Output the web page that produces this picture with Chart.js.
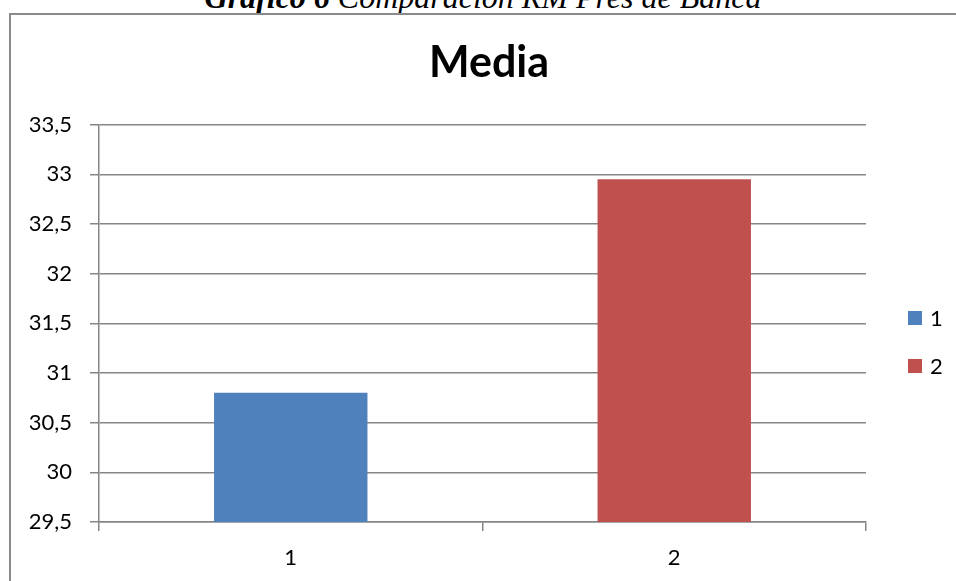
<!DOCTYPE html>
<html>
<head>
<meta charset="utf-8">
<script src="https://cdn.jsdelivr.net/npm/chart.js@4/dist/chart.umd.min.js"></script>
<style>
  html, body { margin: 0; padding: 0; background: #fff; overflow: hidden; width: 956px; height: 581px; }
  #caption {
    position: absolute; left: 0; width: 966px; top: -19px;
    text-align: center; font-family: "Liberation Serif", serif; font-style: italic;
    font-size: 32px; line-height: 32px; color: #000; white-space: nowrap;
  }
  #caption b { font-weight: bold; }
  #frame {
    position: absolute; left: 9px; top: 13px; width: 1000px; height: 700px;
    border: 2px solid #8a8a8a; box-sizing: border-box;
  }
  #chart { position: absolute; left: 10px; top: 14px; }
</style>
</head>
<body>
<div id="caption"><b>Gráfico 6</b> Comparación RM Pres de Banca</div>
<div id="frame"></div>
<canvas id="chart" width="958" height="567"></canvas>
<script>
// Mean of each group
const categories = ['1', '2'];
const meanValues = [30.8, 32.95];
const barColors = ['#4F81BD', '#C0504D'];
const yMin = 29.5;
const yMax = 33.5;
const yStep = 0.5;

const gridGrey = '#868686';
const labelFont = { family: 'Lato, "Open Sans", sans-serif', size: 22 };

// Legend listing one swatch per category, drawn to the right of the plot
const sideLegend = {
  id: 'sideLegend',
  afterDraw(chart) {
    const ctx = chart.ctx;
    const area = chart.chartArea;
    const x = area.right + 42;
    const firstY = 304;
    const gap = 48;
    ctx.save();
    ctx.font = `${labelFont.size}px ${labelFont.family}`;
    ctx.textBaseline = 'middle';
    ctx.textAlign = 'left';
    chart.data.labels.forEach((lbl, i) => {
      const cy = firstY + i * gap;
      ctx.fillStyle = chart.data.datasets[0].backgroundColor[i];
      ctx.fillRect(x, cy - 7, 14, 14);
      ctx.fillStyle = '#000';
      ctx.fillText(lbl, x + 22, cy + 1);
    });
    ctx.restore();
  }
};

new Chart(document.getElementById('chart'), {
  type: 'bar',
  data: {
    labels: categories,
    datasets: [{
      label: 'Media',
      data: meanValues,
      backgroundColor: barColors,
      borderWidth: 0,
      barPercentage: 0.4,
      categoryPercentage: 1.0
    }]
  },
  options: {
    responsive: false,
    animation: false,
    layout: { padding: 0 },
    plugins: {
      legend: { display: false },
      tooltip: { enabled: false },
      title: {
        display: true,
        text: 'Media',
        color: '#000',
        font: { family: 'Lato, "Open Sans", sans-serif', size: 43, weight: 'bold', lineHeight: 1.2 },
        padding: { top: 23, bottom: 36 }
      }
    },
    scales: {
      x: {
        offset: true,
        grid: {
          offset: true,
          drawOnChartArea: false,
          drawTicks: true,
          tickLength: 9,
          color: gridGrey,
          lineWidth: 1.5
        },
        border: { display: true, color: gridGrey, width: 1.5 },
        ticks: { color: '#000', font: labelFont, padding: 14 },
        afterFit(scale) { scale.height = 59; }
      },
      y: {
        min: yMin,
        max: yMax,
        grid: {
          color: gridGrey,
          lineWidth: 1.5,
          drawTicks: true,
          tickLength: 9
        },
        border: { display: true, color: gridGrey, width: 1.5 },
        ticks: {
          stepSize: yStep,
          color: '#000',
          font: labelFont,
          padding: 18,
          callback: (v) => (Number.isInteger(v) ? String(v) : v.toFixed(1).replace('.', ','))
        },
        afterFit(scale) { scale.width = 89; }
      },
      // empty right-hand axis that reserves room for the legend
      legendSpace: {
        position: 'right',
        min: yMin,
        max: yMax,
        grid: { display: false },
        border: { display: false },
        ticks: { display: false },
        afterFit(scale) { scale.width = 102; }
      }
    }
  },
  plugins: [sideLegend]
});
</script>
</body>
</html>
